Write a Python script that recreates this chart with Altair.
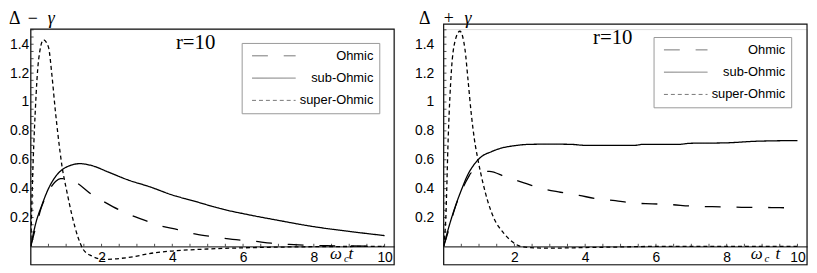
import altair as alt
import pandas as pd

SERIES = ["Ohmic", "sub-Ohmic", "super-Ohmic"]
DASHES = [[16, 16], [1, 0], [4, 3]]
X_TICKS = [2, 4, 6, 8, 10]
Y_TICKS = [0.2, 0.4, 0.6, 0.8, 1.0, 1.2, 1.4]
X_MINOR = [0.5 * i for i in range(1, 21)]
Y_MINOR = [round(0.05 * i, 2) for i in range(1, 31)]

# ---------------- left panel: Delta - gamma ----------------
L_ohmic_x = [0, 0.15, 0.3, 0.5, 0.7, 0.84, 1.03, 1.3, 1.72, 2.14, 2.65, 3.17, 3.64, 4.15, 4.67, 5.18, 5.7, 6.27, 6.8, 7.3, 7.85, 8.37, 9.0, 10.0]
L_ohmic_y = [0, 0.14, 0.27, 0.38, 0.45, 0.47, 0.47, 0.44, 0.36, 0.30, 0.235, 0.185, 0.144, 0.116, 0.085, 0.066, 0.048, 0.037, 0.022, 0.014, 0.008, 0.005, 0.003, 0.0]
L_sub_x = [0, 0.13, 0.32, 0.5, 0.69, 0.88, 1.11, 1.39, 1.72, 2.18, 2.75, 3.36, 4.0, 4.57, 5.42, 6.16, 7.0, 7.94, 8.96, 10.0]
L_sub_y = [0, 0.15, 0.29, 0.40, 0.48, 0.53, 0.56, 0.573, 0.56, 0.516, 0.46, 0.413, 0.356, 0.317, 0.258, 0.219, 0.18, 0.139, 0.105, 0.075]
L_super_x = [0, 0.04, 0.13, 0.22, 0.36, 0.5, 0.6, 0.69, 0.78, 0.88, 1.02, 1.16, 1.34, 1.48, 1.72, 2.09, 2.75, 3.54, 4.0, 5.0, 6.0, 7.0, 8.0, 10.0]
L_super_y = [0, 0.38, 0.95, 1.29, 1.43, 1.38, 1.18, 0.95, 0.75, 0.56, 0.38, 0.22, 0.06, -0.02, -0.066, -0.09, -0.077, -0.043, -0.032, -0.018, -0.01, -0.005, -0.002, 0.0]

# ---------------- right panel: Delta + gamma ----------------
R_ohmic_x = [0, 0.15, 0.3, 0.5, 0.7, 0.78, 1.0, 1.29, 1.76, 2.27, 2.78, 3.3, 3.83, 4.34, 4.85, 5.36, 5.9, 6.45, 6.95, 7.5, 8.0, 8.53, 8.9, 9.5, 10.0]
R_ohmic_y = [0, 0.12, 0.25, 0.38, 0.48, 0.51, 0.52, 0.52, 0.48, 0.44, 0.40, 0.375, 0.353, 0.33, 0.317, 0.30, 0.295, 0.289, 0.28, 0.275, 0.274, 0.27, 0.27, 0.268, 0.267]
R_sub_x = [0, 0.13, 0.32, 0.5, 0.69, 0.87, 1.06, 1.34, 1.62, 1.99, 2.46, 3.0, 3.58, 4.0, 5.4, 5.64, 6.67, 6.95, 7.97, 8.81, 10.0]
R_sub_y = [0, 0.12, 0.27, 0.39, 0.50, 0.57, 0.62, 0.655, 0.68, 0.697, 0.707, 0.708, 0.707, 0.70, 0.70, 0.707, 0.707, 0.714, 0.717, 0.728, 0.733]
R_super_x = [0, 0.06, 0.13, 0.22, 0.32, 0.46, 0.6, 0.69, 0.78, 0.87, 0.97, 1.11, 1.25, 1.43, 1.67, 1.9, 2.18, 2.55, 3.0, 4.0, 5.0, 6.0, 8.0, 10.0]
R_super_y = [0, 0.19, 0.76, 1.22, 1.42, 1.49, 1.37, 1.15, 0.92, 0.74, 0.60, 0.44, 0.31, 0.19, 0.10, 0.04, 0.0, -0.01, -0.012, -0.008, -0.004, 0, 0, 0]

X_DOM = [0, 10.27]
Y_DOM = [-0.127, 1.505]
K = 145.8          # px per y unit
W, H = 367, 238    # plot size of each panel
Y_TITLE = 1.539    # baseline of the panel titles (just above the frame)

XENC = alt.X("x:Q", scale=alt.Scale(domain=X_DOM, nice=False, zero=False),
             axis=alt.Axis(values=X_TICKS, tickCount=20, format="d", title=None,
                           offset=Y_DOM[0] * K,
                           domain=True, domainColor="black", domainWidth=1,
                           ticks=False, tickSize=0, labelPadding=4,
                           labelFontSize=14, labelFont="Liberation Sans",
                           labelColor="black", grid=False, labelFlush=False,
                           labelOverlap=False))


def yenc(pad):
    return alt.Y("y:Q", scale=alt.Scale(domain=Y_DOM, nice=False, zero=False),
                 axis=alt.Axis(values=Y_TICKS, tickCount=20, title=None,
                               labelExpr="datum.value == 1 ? '1' : format(datum.value, '.1f')",
                               domain=False, ticks=False, tickSize=0, labelPadding=pad,
                               labelFontSize=14, labelFont="Liberation Sans",
                               labelColor="black", grid=False, labelBaseline="middle",
                               labelOverlap=False, labelFlush=False))


def make_df(xs_list, ys_list):
    rows = []
    for name, xs, ys in zip(SERIES, xs_list, ys_list):
        for i, (a, b) in enumerate(zip(xs, ys)):
            rows.append({"series": name, "x": a, "y": b, "order": i})
    return pd.DataFrame(rows)


def panel(df, frame_top, lab_pad, leg_x, leg_y, sign, title_x, op_x, gam_x, r_pos, om_x, c_x, t_x):
    YENC = yenc(lab_pad)

    def txt(d, **kw):
        base = dict(align="left", baseline="alphabetic", color="black")
        base.update(kw)
        return alt.Chart(d).mark_text(**base).encode(x=XENC, y=YENC, text="t:N")

    lines = alt.Chart(df).mark_line(color="black", strokeWidth=1.3,
                                    interpolate="monotone", clip=True).encode(
        x=XENC, y=YENC,
        strokeDash=alt.StrokeDash(
            "series:N",
            scale=alt.Scale(domain=SERIES, range=DASHES),
            legend=alt.Legend(title=None, orient="none", legendX=leg_x, legendY=leg_y,
                              symbolType="stroke", symbolSize=1936, symbolOffset=4,
                              symbolStrokeWidth=1, symbolStrokeColor="#777",
                              labelFont="Liberation Sans", labelFontSize=13,
                              labelColor="black", labelAlign="right", labelOffset=78,
                              strokeColor="#999", fillColor="white", padding=6,
                              rowPadding=8.5, clipHeight=14)),
        order="order:Q",
    )
    frame = alt.Chart(pd.DataFrame({"a": [0]})).mark_rect(
        fillOpacity=0, stroke="#111", strokeWidth=1.2).encode(
        x=alt.value(0), x2=alt.value(W), y=alt.value(frame_top), y2=alt.value(H))
    xminor = alt.Chart(pd.DataFrame({"x": X_MINOR})).mark_rule(
        color="#222", strokeWidth=0.8).encode(
        x=XENC, y=alt.datum(0), y2=alt.datum(0.018))
    yminor = alt.Chart(pd.DataFrame({"y": Y_MINOR})).mark_rule(
        color="#222", strokeWidth=0.8).encode(
        y=YENC, x=alt.datum(0), x2=alt.datum(0.08))
    title1 = txt(pd.DataFrame({"x": [title_x, op_x], "y": [Y_TITLE, Y_TITLE], "t": ["Δ", sign]}),
                 font="Liberation Serif", fontSize=18)
    title2 = txt(pd.DataFrame({"x": [gam_x], "y": [Y_TITLE], "t": ["γ"]}),
                 font="Liberation Serif", fontSize=18, fontStyle="italic")
    rtext = txt(pd.DataFrame({"x": [r_pos[0]], "y": [r_pos[1]], "t": ["r=10"]}),
                font="Liberation Serif", fontSize=21, align="center")
    wtext = txt(pd.DataFrame({"x": [om_x, t_x], "y": [-0.086, -0.086], "t": ["ω", "t"]}),
                font="Liberation Serif", fontSize=17, fontStyle="italic")
    ctext = txt(pd.DataFrame({"x": [c_x], "y": [-0.108], "t": ["c"]}),
                font="Liberation Serif", fontSize=11, fontStyle="italic")
    return alt.layer(frame, xminor, yminor, lines, title1, title2, rtext, wtext, ctext).properties(
        width=W, height=H)


left = panel(make_df([L_ohmic_x, L_sub_x, L_super_x], [L_ohmic_y, L_sub_y, L_super_y]),
             0, 2, 213, 14, "−", -0.616, -0.084, 0.48, (4.66, 1.368), 8.46, 8.85, 8.98)
right = panel(make_df([R_ohmic_x, R_sub_x, R_super_x], [R_ohmic_y, R_sub_y, R_super_y]),
              -5, 10, 212, 8, "+", -0.70, 0.0, 0.59, (4.78, 1.40), 8.68, 9.07, 9.38)

chart = alt.hconcat(left, right, spacing=18).resolve_scale(
    x="independent", y="independent", strokeDash="independent"
).resolve_legend(strokeDash="independent").configure_view(
    stroke=None
).configure(background="white", padding=0)

chart.save("out.html", embed_options={"renderer": "svg", "actions": False})
